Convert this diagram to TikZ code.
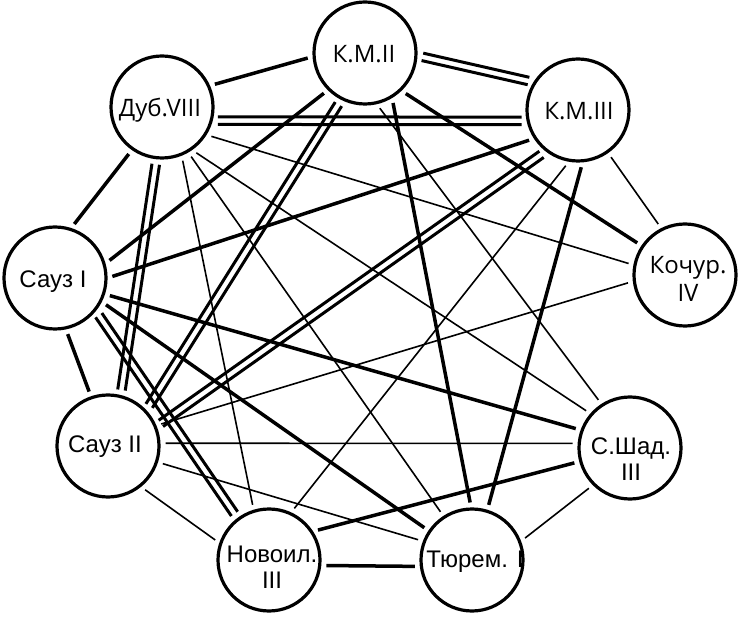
\documentclass[tikz,border=0pt]{standalone}
\usepackage{fontspec}
\setmainfont{Liberation Sans}
\newfontfamily\osans{Open Sans}
\usetikzlibrary{calc}
\tikzset{
  vert/.style={circle, draw, line width=3.2pt, minimum size=102pt, inner sep=0pt},
  lbl/.style={anchor=base, inner sep=0pt, font=\fontsize{24}{28}\selectfont},
  olbl/.style={anchor=base, inner sep=0pt, font=\fontsize{24}{28}\selectfont\osans},
  thinE/.style={line width=1.6pt, shorten <=5pt, shorten >=5pt},
  thickE/.style={line width=3.5pt, shorten <=5pt, shorten >=5pt},
  dblE/.style={line width=3pt, shorten <=5pt, shorten >=5pt},
}
\newcommand\dblline[2]{%
  \draw[dblE] ($(#1)!3.8pt!90:(#2)$) -- ($(#2)!3.8pt!-90:(#1)$);
  \draw[dblE] ($(#1)!3.8pt!-90:(#2)$) -- ($(#2)!3.8pt!90:(#1)$);}
\begin{document}
\begin{tikzpicture}[x=1pt,y=-1pt]
\useasboundingbox (0,0) rectangle (739,617);
% vertices
\node[vert] (KM2) at (365,53) {};
\node[vert] (KM3) at (578,110) {};
\node[vert] (D8)  at (162,107) {};
\node[vert] (S1)  at (55,278) {};
\node[vert] (K4)  at (685,275) {};
\node[vert] (S2)  at (108,446) {};
\node[vert] (SH3) at (630,448) {};
\node[vert] (N3)  at (269,560) {};
\node[vert] (T1)  at (472,560) {};
% labels
\node[olbl] (KM2t) at (364,63) {К.М.II};
\node[olbl] (KM3t) at (579,120) {К.М.III};
\node[olbl] (D8t)  at (160,117) {Дуб.VIII};
\node[olbl] (K4a)  at (688,274) {Кочур.};
\node[olbl] (K4b)  at (688,302) {IV};
\node[lbl] (S1t)  at (53,288) {Сауз I};
\node[lbl] (S2t)  at (105,453) {Сауз II};
\node[lbl] (SH3a) at (631,454) {С.Шад.};
\node[lbl] (SH3b) at (631,480) {III};
\node[lbl] (N3a)  at (272,562) {Новоил.};
\node[lbl] (N3b)  at (272,588) {III};
\node[lbl] (T1t)  at (475,567) {Тюрем. I};
% edges
\draw[thickE] (D8.24.9) -- (KM2.184);
\dblline{D8.-15.3}{KM3.192.1}
\draw[thinE] (D8.-32.4) -- (K4.169.5);
\draw[thickE] (D8.235.3) -- (S1.72.8);
\dblline{D8.264.5}{S2.76.4}
\draw[thinE] (D8.-68.8) -- (N3.107.8);
\draw[thinE] (D8.-60.8) -- (T1.123.2);
\draw[thinE] (D8.-55.3) -- (SH3.139.3);
\dblline{KM2.-3.9}{KM3.148.7}
\draw[thickE] (KM2.225) -- (S1.16.2);
\dblline{KM2.243.9}{S2.43.3}
\draw[thinE] (KM2.-77.8) -- (SH3.123.7);
\draw[thickE] (KM2.-59.8) -- (T1.91.8);
\draw[thickE] (KM2.-46.9) -- (K4.146.1);
\draw[thickE] (KM3.213.5) -- (S1.0.9);
\dblline{KM3.232.1}{S2.22.5}
\draw[thinE] (KM3.260.8) -- (N3.65.6);
\draw[thinE] (KM3.-55.8) -- (K4.117);
\draw[thickE] (KM3.-85.4) -- (T1.73.3);
\draw[thickE] (S1.-78.5) -- (S2.109);
\draw[thickE] (S1.-18.4) -- (SH3.160.5);
\draw[thickE] (S1.-27) -- (T1.146.6);
\dblline{S1.-39.4}{N3.127.5}
\draw[thinE] (S2.3.8) -- (SH3.175.4);
\draw[thinE] (S2.-18.4) -- (T1.159.5);
\draw[thinE] (S2.-51.8) -- (N3.161.9);
\draw[thinE] (S2.23.3) -- (K4.-173.7);
\draw[thickE] (N3.33.4) -- (SH3.-165.3);
\draw[thickE] (N3.-6.8) -- (T1.-173.2);
\draw[thinE] (SH3.225.7) -- (T1.21.4);
\end{tikzpicture}
\end{document}
